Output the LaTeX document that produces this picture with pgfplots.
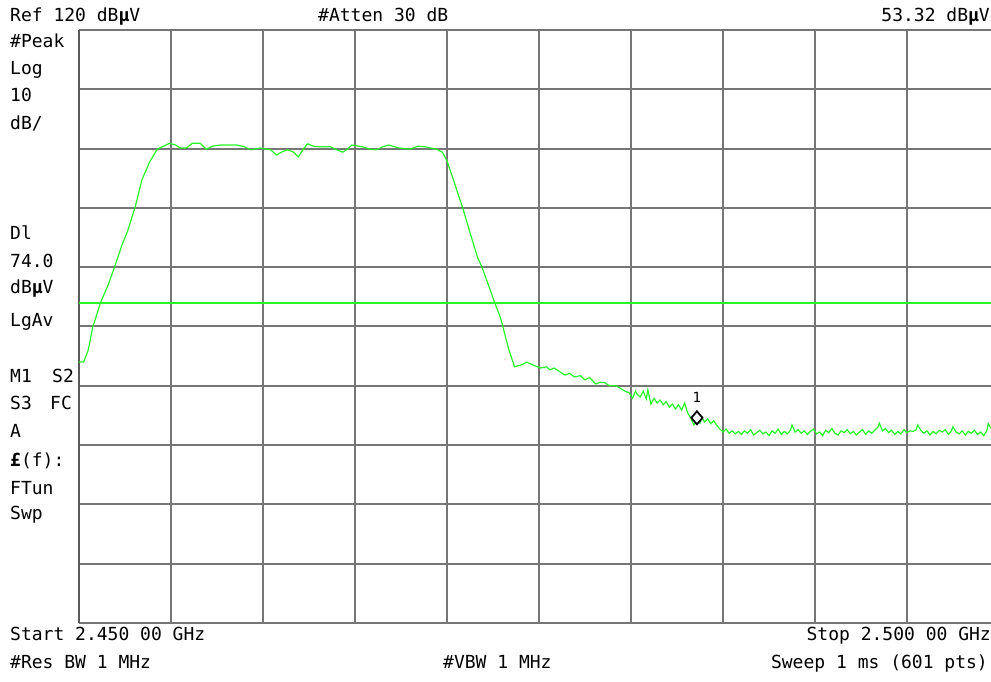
\documentclass[border=0pt]{standalone}
\usepackage{fontspec}
\setmainfont{DejaVu Sans Mono}
\usepackage{pgfplots}
\pgfplotsset{compat=1.18}
\definecolor{trace}{RGB}{40,245,40}
\definecolor{gridc}{RGB}{118,118,118}
\definecolor{framec}{RGB}{90,90,90}
\begin{document}
\begin{tikzpicture}[x=1pt,y=1pt,txt/.style={font=\fontsize{18}{20}\selectfont, inner sep=0pt}]
\begin{axis}[at={(79pt,59pt)}, anchor=south west, scale only axis,
  width=912pt, height=593pt, xmin=0, xmax=594.8, ymin=20, ymax=120,
  xtick={60,120,...,540}, ytick={30,40,...,110},
  xticklabels={}, yticklabels={}, major tick length=0pt,
  grid=major, major grid style={gridc, line width=2pt},
  axis line style={draw=none}, clip mode=individual]
\draw[gridc, line width=2.2pt] (axis cs:0,120) -- (axis cs:594.8,120);
\draw[gridc, line width=2.2pt] (axis cs:0,20) -- (axis cs:594.8,20);
\draw[framec, line width=2.8pt] (axis cs:0,20) -- (axis cs:0,120);
\addplot[trace, line width=1.6pt] coordinates {(0,74) (594.8,74)};
\addplot[trace, line width=1.2pt] table {
0 64.0
3 64.0
6 66.0
9 69.9
14 74.0
19 77.0
23 79.9
28 83.7
32 86.3
37 90.5
41 94.7
46 97.7
51 99.9
55 100.4
59 100.9
63 100.6
66 100.1
70 100.1
74 100.9
79 100.9
83 99.9
87 100.4
92 100.6
103 100.6
108 100.3
112 99.8
118 100.1
125 99.8
129 98.9
132 99.4
136 99.8
140 99.4
143 98.6
146 99.8
149 100.8
153 100.4
157 100.3
164 100.3
168 99.8
172 99.4
175 99.9
178 100.6
185 100.3
190 99.9
194 99.8
198 100.3
202 100.6
206 100.3
209 100.1
216 99.9
221 100.4
226 100.3
233 99.9
237 99.4
240 97.9
244 94.9
247 92.5
250 90.2
253 87.6
257 84.1
260 81.6
263 79.9
267 77.0
271 74.1
275 71.4
277 69.4
280 66.4
284 63.2
288 63.5
290 63.7
292 64.0
296 63.5
301 63.0
305 63.2
307 62.7
310 63.0
314 62.3
317 61.8
320 62.1
323 61.5
327 61.7
330 61.0
333 61.4
337 60.3
340 60.6
343 60.5
346 60.0
350 60.0
353 59.6
356 59.1
359 58.8
361 57.9
363 59.1
364 58.6
366 58.1
368 59.1
370 57.8
371 59.3
373 56.9
375 57.9
377 57.1
379 57.6
381 56.8
383 57.3
385 56.4
387 56.9
389 56.1
391 56.8
393 55.9
395 57.1
397 55.4
399 54.6
401 53.4
403 54.2
405 53.7
406 54.7
408 53.9
410 54.4
412 53.6
414 54.1
416 53.3
418 52.7
420 52.2
422 52.7
424 52.0
426 52.4
428 51.9
430 52.3
432 51.8
434 52.4
436 52.0
438 52.6
440 51.7
442 52.1
444 52.5
446 51.9
448 52.2
450 51.6
452 52.4
454 52.0
456 52.7
458 51.8
460 52.3
462 51.9
464 52.5
465 53.4
467 52.2
469 52.6
471 52.0
473 52.4
475 51.8
477 52.3
479 52.7
481 51.9
483 52.2
485 51.6
487 52.5
489 52.1
491 52.8
493 52.0
495 51.7
497 52.4
499 52.1
501 52.6
503 51.9
505 52.3
507 51.7
509 52.2
511 52.6
513 51.8
515 52.4
517 52.0
519 52.5
521 53.0
522 53.7
524 52.4
526 52.8
528 52.1
530 52.5
532 51.8
534 52.3
536 51.9
538 52.6
540 52.1
542 52.4
544 52.3
546 52.6
547 53.4
549 52.5
551 52.0
553 52.4
555 51.7
557 52.3
559 51.9
561 52.5
563 52.2
565 52.6
567 51.8
569 52.4
570 53.1
572 52.2
574 51.9
576 52.4
578 51.7
580 52.3
582 52.0
584 52.5
586 51.8
588 52.2
590 51.6
592 52.4
593 53.6
595 52.8
};
\addplot[only marks, mark=diamond*, mark size=6.5pt,
  mark options={xscale=1.15, fill=white, draw=black, line width=1.8pt}]
  coordinates {(403,54.6)};
\node[font=\fontsize{14}{15}\selectfont, inner sep=0pt] at (axis cs:403,54.6) [yshift=20pt] {1};
\end{axis}
% header
\node[txt, anchor=base west] at (10,660) {Ref 120 dB{\bfseries µ}V};
\node[txt, anchor=base west] at (318,660) {\#Atten 30 dB};
\node[txt, anchor=base east] at (990,660) {53.32 dB{\bfseries µ}V};
% left column
\node[txt, anchor=base west] at (10,634) {\#Peak};
\node[txt, anchor=base west] at (10,607) {Log};
\node[txt, anchor=base west] at (10,580) {10};
\node[txt, anchor=base west] at (10,552) {dB/};
\node[txt, anchor=base west] at (10,442) {Dl};
\node[txt, anchor=base west] at (10,414) {74.0};
\node[txt, anchor=base west] at (10,388) {dB{\bfseries µ}V};
\node[txt, anchor=base west] at (10,355) {LgAv};
\node[txt, anchor=base west] at (10,299) {M1};
\node[txt, anchor=base west] at (52,299) {S2};
\node[txt, anchor=base west] at (10,272) {S3};
\node[txt, anchor=base west] at (50,272) {FC};
\node[txt, anchor=base west] at (10,244) {A};
\node[txt, anchor=base west] at (10,215) {{\bfseries £}(f):};
\node[txt, anchor=base west] at (10,187) {FTun};
\node[txt, anchor=base west] at (10,162) {Swp};
% footer
\node[txt, anchor=base west] at (10,41) {Start 2.450 00 GHz};
\node[txt, anchor=base west] at (10,13) {\#Res BW 1 MHz};
\node[txt, anchor=base west] at (443,13) {\#VBW 1 MHz};
\node[txt, anchor=base east] at (991,41) {Stop 2.500 00 GHz};
\node[txt, anchor=base east] at (988,13) {Sweep 1 ms (601 pts)};
\pgfresetboundingbox
\path (0,0) rectangle (991,682);
\end{tikzpicture}
\end{document}
